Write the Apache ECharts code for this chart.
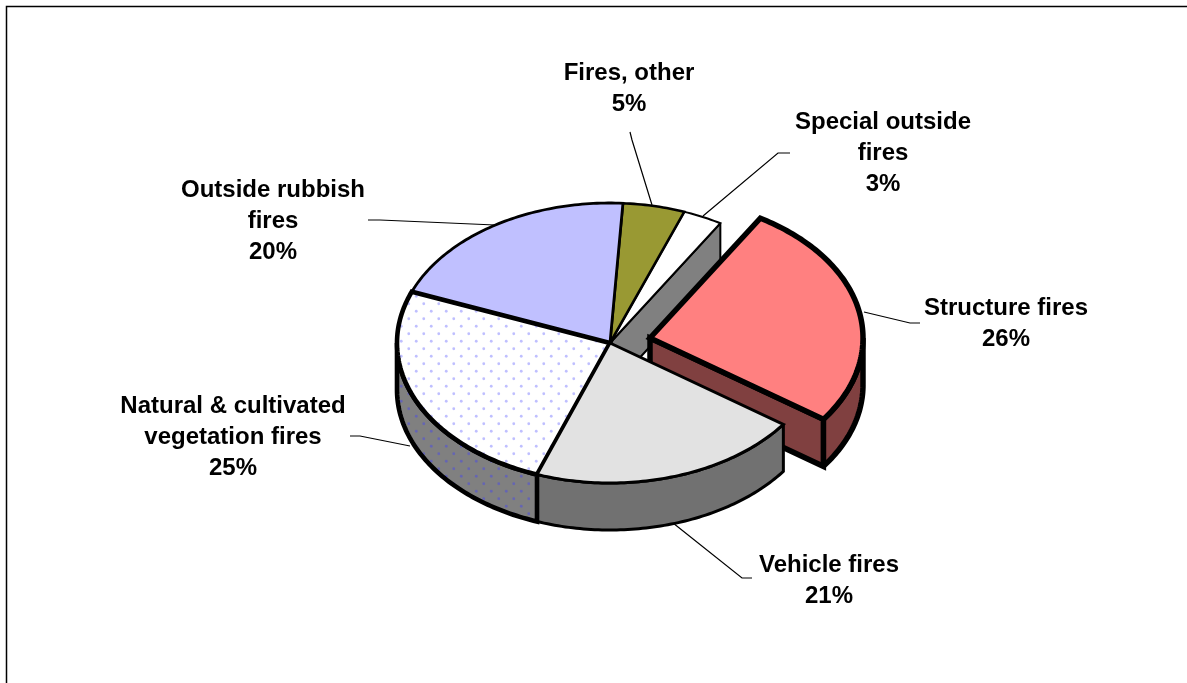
<!DOCTYPE html>
<html>
<head>
<meta charset="utf-8">
<style>html,body{margin:0;padding:0;background:#fff}#c{width:1187px;height:683px}</style>
<script src="https://cdn.jsdelivr.net/npm/echarts@6/dist/echarts.min.js"></script>
</head>
<body>
<div id="c"></div>
<script>
const categories = ['Structure fires','Vehicle fires','Natural & cultivated\nvegetation fires','Outside rubbish\nfires','Fires, other','Special outside\nfires'];
const values = [26.2,20.7,25.4,20.0,4.7,3.0];
const topColors = ['#FF8080','#E2E2E2','dots','#C0C0FF','#999933','#FFFFFF'];
const sideColors = ['#804040','#717171','dotsDark','#606080','#4D4D1A','#808080'];
const strokeWidths = [5.5,3,4.6,2.8,2.6,2];
const labelCenters = [[1006,324],[829,581],[233,437],[273,221],[629,89],[883,153]];
const leaders = [
  [[864,312],[910,323],[920,323]],
  [[673,523],[742,578],[752,578]],
  [[410,446],[360,436],[350,436]],
  [[495,225],[380,220],[368,220]],
  [[652,205],[632,140],[630,132]],
  [[703,216],[778,153],[790,153]]
];
const startAngle = 31.2, cx = 610, cy = 343, rx = 213, ry = 140, depth = 47;
const explodeDx = 40, explodeDy = -5;

function dotPattern(bg, dot){
  const t = document.createElement('canvas');
  t.width = 15; t.height = 15;
  const g = t.getContext('2d');
  g.fillStyle = bg; g.fillRect(0,0,15,15);
  g.fillStyle = dot;
  [[3.75,3.75],[11.25,11.25]].forEach(p=>{ g.beginPath(); g.arc(p[0],p[1],1.4,0,Math.PI*2); g.fill(); });
  return {image:t, repeat:'repeat'};
}
const patterns = {dots:dotPattern('#ffffff','rgba(128,128,255,0.5)'), dotsDark:dotPattern('#808080','rgba(90,90,200,0.7)')};
const paint = c => patterns[c] || c;

function pt(a,ox,oy,dz){
  const r = a*Math.PI/180;
  return [ox+rx*Math.sin(r), oy-ry*Math.cos(r)+dz];
}
function arc(a0,a1,ox,oy,dz){
  const out = [], n = Math.max(2,Math.ceil(Math.abs(a1-a0)));
  for(let i=0;i<=n;i++) out.push(pt(a0+(a1-a0)*i/n,ox,oy,dz));
  return out;
}
const total = values.reduce((s,v)=>s+v,0);

function renderItem(params, api){
  const i = params.dataIndex;
  let a0 = startAngle;
  for(let k=0;k<i;k++) a0 += values[k]/total*360;
  const a1 = a0 + api.value(0)/total*360;
  const ex = i===0;
  const ox = ex ? cx+explodeDx : cx, oy = ex ? cy+explodeDy : cy;
  const lw = strokeWidths[i];
  const base = {stroke:'#000', lineWidth:lw, lineJoin:'miter', miterLimit:2};
  const poly = (points,fill,z2)=>({type:'polygon',shape:{points},style:Object.assign({},base,{fill}),z2,silent:true});
  const kids = [];
  const sideLayer = ex ? 2 : 3;
  const s0 = Math.max(a0,90), s1 = Math.min(a1,270);
  if(s1>s0){
    kids.push(poly(arc(s0,s1,ox,oy,0).concat(arc(s1,s0,ox,oy,depth)),paint(sideColors[i]),sideLayer));
  }
  if(ex){
    const r = pt(a1,ox,oy,0);
    kids.push(poly([[ox,oy],r,[r[0],r[1]+depth],[ox,oy+depth]],paint(sideColors[i]),2));
  }
  if(i===5){
    const r = pt(a1,ox,oy,0);
    kids.push(poly([[ox,oy],r,[r[0],r[1]+depth],[ox,oy+depth]],paint(sideColors[i]),1));
  }
  const topZ = ex ? 2.5 : 4 + (5-i)/10 + (i===1?1:0);
  kids.push(poly([[ox,oy]].concat(arc(a0,a1,ox,oy,0)),paint(topColors[i]),topZ));
  kids.push({type:'polyline',shape:{points:leaders[i]},style:{stroke:'#000',lineWidth:1.2,fill:null},z2:0,silent:true});
  kids.push({type:'text',x:labelCenters[i][0],y:labelCenters[i][1],z2:10,silent:true,
    style:{text:categories[i]+'\n'+Math.round(api.value(0))+'%',fill:'#000',
      font:'bold 24px "Liberation Sans", Arial, sans-serif',lineHeight:31,align:'center',verticalAlign:'middle'}});
  return {type:'group',children:kids};
}

const chart = echarts.init(document.getElementById('c'),null,{renderer:'canvas'});
chart.setOption({
  animation:false,
  backgroundColor:'#fff',
  graphic:[{type:'polyline',shape:{points:[[6.5,683],[6.5,6.5],[1187,6.5]]},style:{stroke:'#000',lineWidth:1.5,fill:null},silent:true}],
  series:[{
    type:'custom',
    coordinateSystem:'none',
    renderItem,
    data:values.map((v,i)=>({name:categories[i].replace('\n',' '),value:[v]}))
  }]
});
</script>
</body>
</html>
